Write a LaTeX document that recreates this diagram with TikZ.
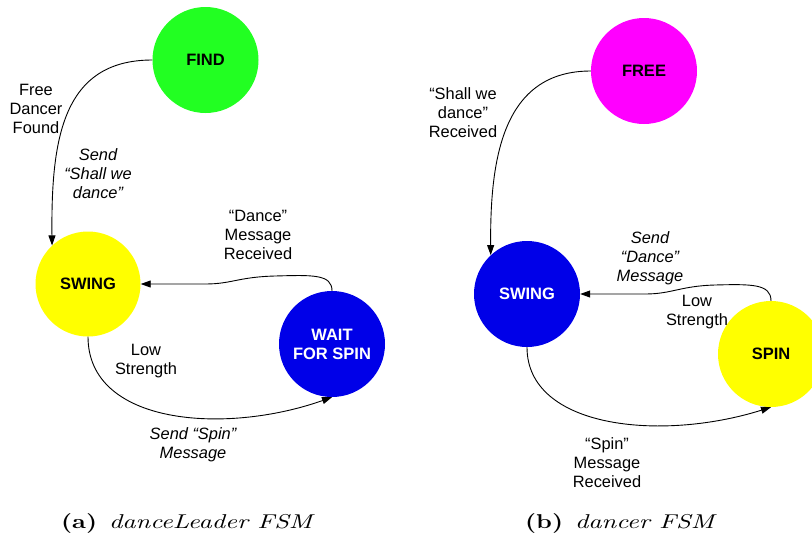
\documentclass[tikz,border=0pt]{standalone}
\usepackage{fontspec}
\usepackage{graphicx}
\usetikzlibrary{arrows.meta}
\newfontfamily\sansfam{Liberation Sans}
% caption face: the 10pt design of Latin Modern, scaled up
\newfontfamily\capfam{lmroman10-regular.otf}[BoldFont=lmroman10-bold.otf, ItalicFont=lmroman10-italic.otf]
\newcommand\statefont{\sansfam\bfseries\fontsize{16.5}{19}\selectfont}
\newcommand\labfont{\sansfam\fontsize{16.4}{19}\selectfont}
\newcommand\capfont{\capfam\fontsize{20}{24}\selectfont}
\newcommand\captag[1]{\scalebox{1.24}[1]{\textbf{(#1)}}\hspace{12pt}}
\newcommand\captext[1]{\scalebox{1.3}[1]{\textit{#1}}}
\definecolor{stgreen}{HTML}{22FF22}
\definecolor{styellow}{HTML}{FFFF00}
\definecolor{stblue}{HTML}{0000E8}
\definecolor{stmagenta}{HTML}{FF00FF}
\tikzset{
  state/.style={circle, minimum size=106pt, inner sep=0pt, align=center, font=\statefont},
  lbl/.style={align=center, inner sep=0pt, font=\labfont},
  arr/.style={-{Triangle[length=10pt,width=7pt]}, line width=0.9pt},
  caplbl/.style={anchor=base, inner sep=0pt, font=\capfont}
}
\begin{document}
\begin{tikzpicture}[x=1pt,y=-1pt]
\path[use as bounding box] (0,0) rectangle (812,539);

% ---------- danceLeader FSM ----------
\node[state, fill=stgreen]  (find)  at (205.5,60) {FIND};
\node[state, fill=styellow, minimum size=105pt] (swingA) at (88,284) {SWING};
\node[state, fill=stblue, text=white] (wait) at (332,344) {WAIT\\FOR SPIN};

\draw[arr] (find.west) .. controls (62,60) and (51,140) .. (swingA.133);
\draw[arr] (wait.north) .. controls (332,274) and (312,275) .. (275,276)
           .. controls (238,277) and (232,284) .. (205,284) -- (swingA.east);
\draw[arr] (swingA.south) .. controls (88,425) and (225,435) .. (wait.south);

\node[lbl] (lfound) at (36,109) {Free\\Dancer\\Found};
\node[lbl, font=\labfont\itshape] (lsend) at (98,174) {Send\\“Shall we\\dance”};
\node[lbl] (ldance) at (258,235) {“Dance”\\Message\\Received};
\node[lbl] (llow) at (146,361.5) {Low\\Strength};
\node[lbl, font=\labfont\itshape] (lspin) at (193,444.5) {Send “Spin”\\Message};

\node[caplbl] (capa) at (188,528) {\captag{a}\captext{danceLeader FSM}};

% ---------- dancer FSM ----------
\node[state, fill=stmagenta] (free) at (644,71) {FREE};
\node[state, fill=stblue, text=white] (swingB) at (527,294) {SWING};
\node[state, fill=styellow] (spin) at (771,354) {SPIN};

\draw[arr] (free.west) .. controls (502,71) and (490,160) .. (swingB.133);
\draw[arr] (spin.north) .. controls (771,284) and (752,284) .. (715,285)
           .. controls (680,286) and (672,294) .. (645,294) -- (swingB.east);
\draw[arr] (swingB.south) .. controls (527,428) and (660,442) .. (spin.south);

\node[lbl] (lshall) at (463,113) {“Shall we\\dance”\\Received};
\node[lbl, font=\labfont\itshape] (lsdance) at (650,258.5) {Send\\“Dance”\\Message};
\node[lbl] (llowb) at (697,312.5) {Low\\Strength};
\node[lbl] (lspinr) at (607,463) {“Spin”\\Message\\Received};

\node[caplbl] (capb) at (621,528) {\captag{b}\captext{dancer FSM}};
\end{tikzpicture}
\end{document}
